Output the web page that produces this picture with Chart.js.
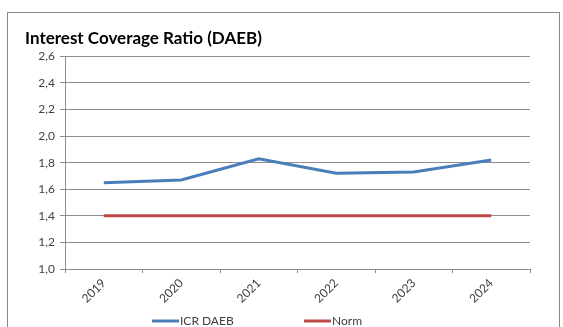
<!DOCTYPE html>
<html>
<head>
<meta charset="utf-8">
<script src="https://cdn.jsdelivr.net/npm/chart.js@4.4.1/dist/chart.umd.min.js"></script>
<style>
  html, body { margin: 0; padding: 0; background: #fff; }
  #wrap { position: relative; width: 563px; height: 327px; overflow: hidden; }
  #frame { position: absolute; left: 7px; top: 12px; width: 553px; height: 340px;
           border: 1px solid #8a8a8a; box-sizing: border-box; }
  canvas { position: absolute; left: 0; top: 0; }
</style>
</head>
<body>
<div id="wrap">
  <div id="frame"></div>
  <canvas id="c" width="563" height="327"></canvas>
</div>
<script>
// Years on the category axis
const years = ['2019', '2020', '2021', '2022', '2023', '2024'];
// Interest coverage ratio per year
const icrDaeb = [1.65, 1.67, 1.83, 1.72, 1.73, 1.82];
// Minimum norm
const norm = [1.4, 1.4, 1.4, 1.4, 1.4, 1.4];
// Value axis
const yMin = 1.0, yMax = 2.6, yStep = 0.2;

const FONT = 'Lato, "Open Sans", sans-serif';
const GRID = '#8c8c8c';
const TEXT = '#404040';

// Legend drawn as short line swatches with labels under the axis
const lineLegend = {
  id: 'lineLegend',
  afterDraw(chart) {
    const ctx = chart.ctx;
    const items = [
      { ds: chart.data.datasets[0], x: 152 },
      { ds: chart.data.datasets[1], x: 304 }
    ];
    const y = 321;
    ctx.save();
    ctx.font = '12px ' + FONT;
    ctx.textBaseline = 'middle';
    ctx.fillStyle = TEXT;
    items.forEach(it => {
      ctx.strokeStyle = it.ds.borderColor;
      ctx.lineWidth = 3;
      ctx.beginPath();
      ctx.moveTo(it.x, y);
      ctx.lineTo(it.x + 27, y);
      ctx.stroke();
      ctx.fillText(it.ds.label, it.x + 28, y);
    });
    ctx.restore();
  }
};

new Chart(document.getElementById('c'), {
  type: 'line',
  data: {
    labels: years,
    datasets: [
      { label: 'ICR DAEB', data: icrDaeb, borderColor: '#4a7ebb', borderWidth: 3,
        pointRadius: 0, tension: 0, fill: false },
      { label: 'Norm', data: norm, borderColor: '#be4b48', borderWidth: 3,
        pointRadius: 0, tension: 0, fill: false }
    ]
  },
  options: {
    responsive: false,
    animation: false,
    events: [],
    layout: { padding: { left: 25, right: 33, top: 0, bottom: 0 } },
    plugins: {
      legend: { display: false },
      tooltip: { enabled: false },
      title: {
        display: true,
        text: 'Interest Coverage Ratio (DAEB)',
        align: 'start',
        color: '#000',
        font: { family: FONT, size: 17, weight: 'bold' },
        padding: { top: 28, bottom: 8 }
      }
    },
    scales: {
      x: {
        offset: true,
        grid: { drawOnChartArea: false, drawTicks: true, tickLength: 4, offset: true, color: GRID },
        border: { color: GRID },
        ticks: { autoSkip: false, minRotation: 45, maxRotation: 45, color: TEXT,
                 font: { family: FONT, size: 12 }, padding: 3 },
        afterFit(s) { s.height = 58; }
      },
      y: {
        min: yMin, max: yMax,
        grid: { color: GRID, tickLength: 5 },
        border: { color: GRID },
        ticks: { stepSize: yStep, color: TEXT, font: { family: FONT, size: 12 }, padding: 5,
                 callback: v => v.toFixed(1).replace('.', ',') },
        afterFit(s) { s.width = 40; }
      }
    }
  },
  plugins: [lineLegend]
});
</script>
</body>
</html>
